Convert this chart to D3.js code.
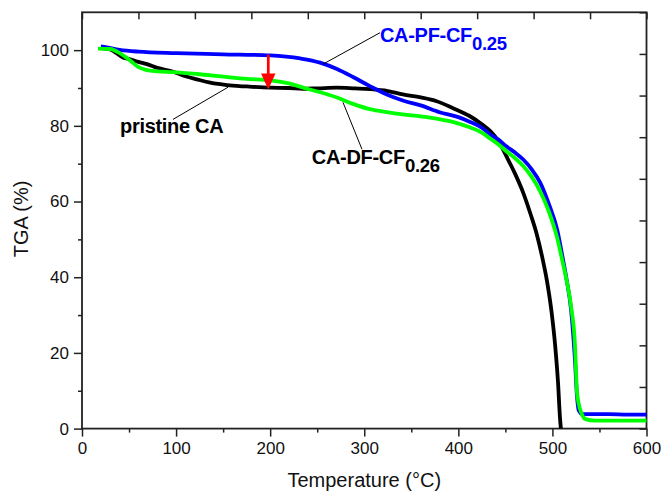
<!DOCTYPE html>
<html>
<head>
<meta charset="utf-8">
<script src="https://cdn.jsdelivr.net/npm/d3@7"></script>
<style>
  body { margin: 0; background: #fff; }
  text { font-family: "Liberation Sans", Arial, sans-serif; }
</style>
</head>
<body>
<div id="chart"></div>
<script>
'use strict';

// TGA curves, [temperature °C, weight %]
const pristineCA = [
  [22, 100.5], [30, 100.2], [44, 98.0], [51, 97.6], [60, 96.9], [69, 96.3], [80, 95.3],
  [97, 94.3], [110, 93.1], [122, 92.3], [135, 91.5], [147, 91.0], [160, 90.6], [175, 90.4],
  [200, 90.1], [220, 90.0], [235, 89.8], [250, 89.9], [271, 90.1], [290, 89.9], [306, 89.7],
  [325, 89.2], [341, 88.3], [360, 87.5], [377, 86.5], [395, 84.6], [412, 82.6], [425, 80.4],
  [434, 78.6], [443, 75.8], [451, 72.0], [460, 67.5], [469, 62.3], [477, 56.5], [483, 51.7],
  [489, 45.5], [494, 39.3], [499, 31.0], [503, 21.7], [506, 12.0], [508, 3.0], [509, 0]
];
const caPF = [
  [20, 101.0], [25, 100.8], [40, 100.1], [60, 99.6], [100, 99.2], [150, 98.9], [200, 98.6],
  [232, 97.8], [253, 96.7], [271, 95.0], [288, 92.9], [306, 90.5], [324, 88.3], [341, 86.7],
  [360, 85.4], [380, 83.6], [400, 82.3], [412, 81.1], [425, 79.5], [434, 77.7], [443, 76.3],
  [451, 74.6], [460, 73.0], [469, 71.1], [478, 68.5], [487, 65.0], [496, 59.5], [505, 52.6],
  [511, 45.0], [515, 39.5], [520, 31.0], [524, 18.0], [526, 9.0], [528, 4.8], [532, 3.8],
  [560, 3.8], [580, 3.7], [600, 3.7]
];
const caDF = [
  [17, 100.4], [30, 100.3], [40, 99.2], [51, 97.3], [60, 95.5], [68, 94.8], [80, 94.4],
  [97, 94.2], [122, 93.7], [150, 93.0], [175, 92.4], [200, 92.0], [220, 91.2], [235, 90.1],
  [253, 88.9], [271, 87.5], [288, 85.8], [306, 84.4], [324, 83.6], [341, 83.0], [360, 82.5],
  [377, 81.9], [395, 81.0], [412, 79.6], [425, 78.2], [434, 76.6], [443, 75.0], [451, 73.3],
  [460, 71.5], [469, 69.4], [478, 66.5], [487, 62.7], [496, 57.5], [504.6, 50.8], [510, 45.0],
  [515, 39.3], [520, 32.0], [524, 22.0], [526, 10.0], [528, 6.5], [531, 4.0], [535, 2.5],
  [545, 2.1], [600, 2.1]
];

const xTicks = [0, 100, 200, 300, 400, 500, 600];
const yTicks = [0, 20, 40, 60, 80, 100];

// labels: text, subscript, colour, position [T, W], leader line [[T, W], [T, W]]
const labels = [
  {text: 'CA-PF-CF', sub: '0.25', color: '#0000ff', at: [316.7, 102.1], lead: [[316.7, 104.6], [256.2, 96.3]]},
  {text: 'pristine CA', sub: '', color: '#000', at: [40.4, 78.0], lead: [[96.7, 81.7], [155.2, 90.2]]},
  {text: 'CA-DF-CF', sub: '0.26', color: '#000', at: [244.2, 69.8], lead: [[277.4, 86.2], [297.6, 73.8]]}
];
// red arrow: temperature, from weight, to weight
const arrow = {t: 198, from: 98.8, to: 89.6};

const margin = {top: 12.3, right: 14.5, bottom: 63.4, left: 82},
      width = 661 - margin.left - margin.right,
      height = 492 - margin.top - margin.bottom;

const svg = d3.select('#chart').append('svg')
    .attr('width', 661)
    .attr('height', 492)
  .append('g')
    .attr('transform', 'translate(' + margin.left + ',' + margin.top + ')');

const x = d3.scaleLinear().domain([0, 600]).range([0, width]);
const y = d3.scaleLinear().domain([0, 110]).range([height, 0]);

const axisColor = '#222';

function styleAxis(g) {
  g.select('.domain').remove();
  g.selectAll('line').attr('stroke', axisColor).attr('stroke-width', 1.5);
  g.selectAll('text').attr('fill', '#111').attr('font-size', 17);
}

// minor ticks
svg.append('g')
    .attr('transform', 'translate(0,' + height + ')')
    .call(d3.axisBottom(x).tickValues(d3.range(50, 600, 100)).tickSize(4).tickFormat(''))
    .call(styleAxis);
svg.append('g')
    .call(d3.axisLeft(y).tickValues(d3.range(10, 110, 20)).tickSize(4).tickFormat(''))
    .call(styleAxis);

// major ticks
svg.append('g')
    .attr('transform', 'translate(0,' + height + ')')
    .call(d3.axisBottom(x).tickValues(xTicks).tickSize(8).tickPadding(5))
    .call(styleAxis);
svg.append('g')
    .call(d3.axisLeft(y).tickValues(yTicks).tickSize(8).tickPadding(5))
    .call(styleAxis);

// mirror ticks on top and right (10 divisions, pointing inward)
svg.append('g')
    .call(d3.axisTop(x).tickValues(d3.range(0, 601, 60)).tickSize(-7).tickFormat(''))
    .call(styleAxis);
svg.append('g')
    .attr('transform', 'translate(' + width + ',0)')
    .call(d3.axisRight(y).tickValues(d3.range(0, 111, 11)).tickSize(-7).tickFormat(''))
    .call(styleAxis);

// frame
svg.append('rect')
    .attr('width', width)
    .attr('height', height)
    .attr('fill', 'none')
    .attr('stroke', axisColor)
    .attr('stroke-width', 1.8);

// axis titles
svg.append('text')
    .attr('x', width / 2)
    .attr('y', height + 58.5)
    .attr('text-anchor', 'middle')
    .attr('font-size', 20)
    .attr('fill', '#111')
    .text('Temperature (°C)');
svg.append('text')
    .attr('transform', 'translate(' + (27.5 - margin.left) + ',' + (219 - margin.top) + ') rotate(-90)')
    .attr('text-anchor', 'middle')
    .attr('font-size', 20)
    .attr('fill', '#111')
    .text('TGA (%)');

// curves
const line = d3.line()
    .x(d => x(d[0]))
    .y(d => y(d[1]))
    .curve(d3.curveMonotoneX);

const series = [
  {data: pristineCA, color: '#000000'},
  {data: caPF, color: '#0000ff'},
  {data: caDF, color: '#00ff00'}
];

svg.selectAll('.curve')
    .data(series)
    .enter().append('path')
    .attr('class', 'curve')
    .attr('d', d => line(d.data))
    .attr('fill', 'none')
    .attr('stroke', d => d.color)
    .attr('stroke-width', 3.8)
    .attr('stroke-linejoin', 'round');

// red arrow
const ax = x(arrow.t), ay0 = y(arrow.from), ay1 = y(arrow.to);
svg.append('line')
    .attr('x1', ax).attr('x2', ax)
    .attr('y1', ay0).attr('y2', ay1 - 12)
    .attr('stroke', '#ff0000')
    .attr('stroke-width', 2.7);
svg.append('path')
    .attr('d', 'M' + (ax - 7.2) + ',' + (ay1 - 16) + 'L' + (ax + 7.2) + ',' + (ay1 - 16) + 'L' + ax + ',' + ay1 + 'Z')
    .attr('fill', '#ff0000');

// leader lines
svg.selectAll('.lead')
    .data(labels)
    .enter().append('line')
    .attr('class', 'lead')
    .attr('x1', d => x(d.lead[0][0])).attr('y1', d => y(d.lead[0][1]))
    .attr('x2', d => x(d.lead[1][0])).attr('y2', d => y(d.lead[1][1]))
    .attr('stroke', '#000')
    .attr('stroke-width', 1);

// labels
const lbl = svg.selectAll('.lbl')
    .data(labels)
    .enter().append('text')
    .attr('class', 'lbl')
    .attr('x', d => x(d.at[0]))
    .attr('y', d => y(d.at[1]))
    .attr('font-size', 20)
    .attr('font-weight', 'bold')
    .attr('letter-spacing', -0.3)
    .attr('fill', d => d.color);
lbl.append('tspan').text(d => d.text);
lbl.append('tspan')
    .attr('dy', 8)
    .attr('font-size', 18.5)
    .text(d => d.sub);
</script>
</body>
</html>
